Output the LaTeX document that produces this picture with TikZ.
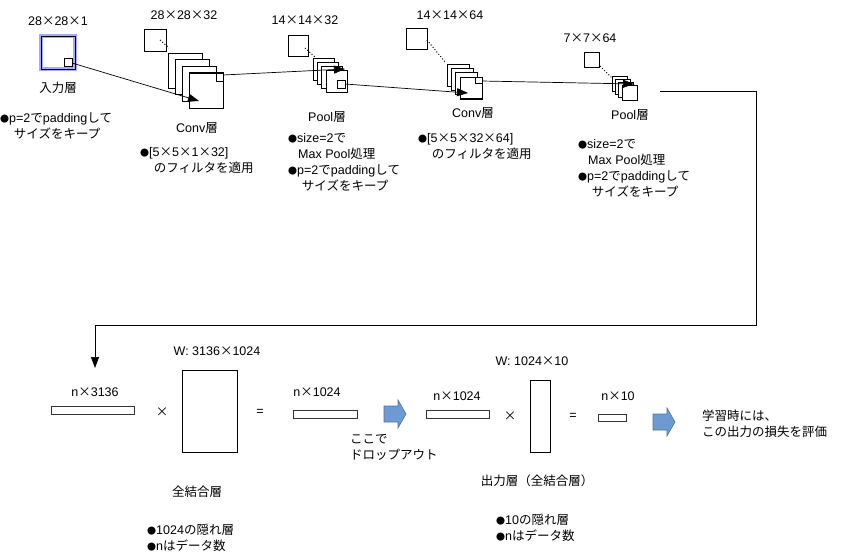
\documentclass[tikz,border=0pt]{standalone}
\usepackage{fontspec}
\setmainfont{Liberation Sans}
\newfontfamily\cjk{Noto Sans CJK JP}
\newcommand\J[1]{{\cjk #1}}
\newcommand\X{{\cjk ×}}
\newcommand\bul{{\fontsize{9}{10}\selectfont\cjk ●}}
\usetikzlibrary{arrows.meta}
\definecolor{ablue}{HTML}{6E9AD2}
\definecolor{ablueb}{HTML}{4A74A8}
\begin{document}
\begin{tikzpicture}[x=1pt,y=-1pt,
  txt/.style={inner sep=0pt,font=\fontsize{12.5}{16}\selectfont},
  lft/.style={txt,anchor=west,align=left},
  sq/.style={draw=black,fill=white,line width=0.8pt},
  bar/.style={draw=black!80,fill=white,line width=0.8pt},
  arr/.style={-{Triangle[length=11pt,width=8pt]},line width=0.7pt},
  dots/.style={dotted,line width=1pt}]
\useasboundingbox (0,0) rectangle (849,555);
\newcommand\blk[2]{\draw[fill=ablue,draw=ablueb,line width=0.6pt] (#1,#2+6) -- (#1+14,#2+6) -- (#1+14,#2) -- (#1+22,#2+14) -- (#1+14,#2+28) -- (#1+14,#2+22) -- (#1,#2+22) -- cycle;}
% input
\draw[line width=3.5pt,draw=blue!35] (41,36) rectangle (75,69);
\draw[line width=0.9pt] (41,36) rectangle (75,69);
\draw[sq] (64,58) rectangle (72,66);
\coordinate (a0) at (72,63);
\node[txt] (l0) at (58,21) {28\X28\X1};
\node[txt] (n0) at (58,88) {\J{入力層}};
\node[lft] (b0) at (0,126) {\bul p=2\J{で}padding\J{して}\\\hspace{1.1em}\J{サイズをキープ}};
% conv1
\draw[sq] (144,29) rectangle (166,51);
\draw[dots] (160,40) -- (169,48);
\foreach \i in {0,1,2,3} \draw[sq] (168+7*\i,53+6.5*\i) rectangle (202+7*\i,88+6.5*\i);
\draw[sq] (189,73) rectangle (223,108);
\draw[sq] (216,73) rectangle (223,81);
\coordinate (c1in) at (199,101);
\coordinate (c1out) at (223,75);
\node[txt] (l1) at (184,15) {28\X28\X32};
\node[txt] (n1) at (197,128) {Conv\J{層}};
\node[lft] (b1) at (140,160) {\bul[5\X5\X1\X32]\\\hspace{1.1em}\J{のフィルタを適用}};
\draw[arr] (a0) -- (c1in);
% pool1
\draw[sq] (288,35) rectangle (308,56);
\draw[dots] (305,48) -- (316,58);
\foreach \i in {0,1,2,3} \draw[sq] (313+4.3*\i,58+4*\i) rectangle (334+4.3*\i,80+4*\i);
\draw[sq] (326,70) rectangle (347,92);
\draw[sq] (337,80) rectangle (345,88);
\coordinate (p1in) at (345,69);
\coordinate (p1out) at (345,84);
\node[txt] (l2) at (305,20) {14\X14\X32};
\node[txt] (n2) at (327,117) {Pool\J{層}};
\node[lft] (b2) at (288,162) {\bul size=2\J{で}\\\hspace{0.8em}Max Pool\J{処理}\\\bul p=2\J{で}padding\J{して}\\\hspace{1.1em}\J{サイズをキープ}};
\draw[arr] (c1out) -- (p1in);
% conv2
\draw[sq] (406,28) rectangle (427,49);
\draw[dots] (427,40) -- (446,63);
\foreach \i in {0,1,2,3} \draw[sq] (447+4.3*\i,64+4.3*\i) rectangle (469+4.3*\i,86+4.3*\i);
\draw[sq] (460,77) rectangle (482,98);
\draw[sq] (475,77) rectangle (482,83);
\coordinate (c2in) at (468,93);
\coordinate (c2out) at (482,81);
\node[txt] (l3) at (450,15) {14\X14\X64};
\node[txt] (n3) at (473,113) {Conv\J{層}};
\node[lft] (b3) at (418,146) {\bul[5\X5\X32\X64]\\\hspace{1.1em}\J{のフィルタを適用}};
\draw[arr] (p1out) -- (c2in);
% pool2
\draw[sq] (584,52) rectangle (599,67);
\draw[dots] (600,66) -- (612,78);
\foreach \i in {0,1,2,3} \draw[sq] (612+3.3*\i,76+3*\i) rectangle (627+3.3*\i,91+3*\i);
\draw[sq] (622,85) rectangle (637,100);
\coordinate (p2in) at (634,84);
\coordinate (p2out) at (660,91);
\node[txt] (l4) at (590,38) {7\X7\X64};
\node[txt] (n4) at (630,115) {Pool\J{層}};
\node[lft] (b4) at (578,168) {\bul size=2\J{で}\\\hspace{0.8em}Max Pool\J{処理}\\\bul p=2\J{で}padding\J{して}\\\hspace{1.1em}\J{サイズをキープ}};
\draw[arr] (c2out) -- (p2in);
% bottom
\node[bar,minimum width=83pt,minimum height=8pt,inner sep=0pt] (x1) at (92.5,410) {};
\node[txt] at (95,392) {n\X3136};
\draw[arr] (p2out) -- (756,91) -- (756,325) -- (95,325) -- (95,368);
\node[txt] at (162,412) {\X};
\node[sq,minimum width=55pt,minimum height=82pt,inner sep=0pt] (w1) at (209.5,411) {};
\node[txt] at (217,351) {W: 3136\X1024};
\node[txt] at (260,412) {=};
\node[bar,minimum width=64pt,minimum height=8pt,inner sep=0pt] (h1) at (325,414) {};
\node[txt] at (317,392) {n\X1024};
\blk{384}{400}
\node[lft] at (350,447) {\J{ここで}\\\J{ドロップアウト}};
\node[txt] at (197,492) {\J{全結合層}};
\node[lft] at (147,538) {\bul 1024\J{の隠れ層}\\\bul n\J{はデータ数}};
\node[bar,minimum width=63pt,minimum height=8pt,inner sep=0pt] (h2) at (457.5,414) {};
\node[txt] at (457,396) {n\X1024};
\node[txt] at (510,416) {\X};
\node[sq,minimum width=20pt,minimum height=72pt,inner sep=0pt] (w2) at (540,416) {};
\node[txt] at (532,361) {W: 1024\X10};
\node[txt] at (573,416) {=};
\node[bar,minimum width=28pt,minimum height=7pt,inner sep=0pt] (o) at (612,417.5) {};
\node[txt] at (618,396) {n\X10};
\blk{653}{408}
\node[lft] at (702,424) {\J{学習時には、}\\\J{この出力の損失を評価}};
\node[txt] at (537,481) {\J{出力層（全結合層）}};
\node[lft] at (496,528) {\bul 10\J{の隠れ層}\\\bul n\J{はデータ数}};
\end{tikzpicture}
\end{document}
